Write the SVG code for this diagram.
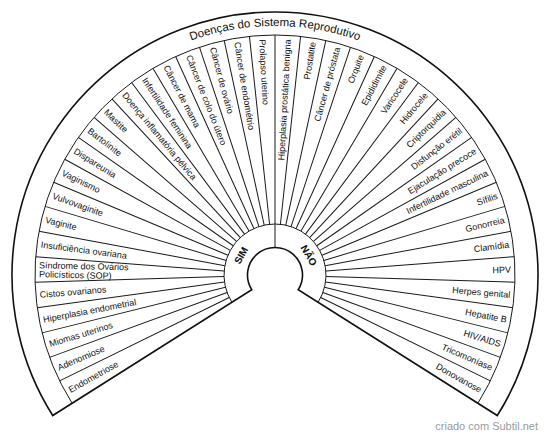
<svg xmlns="http://www.w3.org/2000/svg" xmlns:xlink="http://www.w3.org/1999/xlink" width="550" height="438" viewBox="0 0 550 438">
<style>
.ln{fill:none;stroke:#1a1a1a;stroke-width:1}
.out{fill:#fff;stroke:#111;stroke-width:1.6}
.lb{font-family:"Liberation Sans",Arial,sans-serif;font-size:9px;fill:#111}
.l{text-anchor:start}
.r{text-anchor:end}
.yn{font-family:"Liberation Sans",Arial,sans-serif;font-size:10px;font-weight:bold;fill:#111;text-anchor:middle}
.tt{font-family:"Liberation Sans",Arial,sans-serif;font-size:11.5px;fill:#111}
.ft{font-family:"Liberation Sans",Arial,sans-serif;font-size:11px;fill:#9a9a9a;text-anchor:end}
</style>
<defs>
<line id="sp" x1="326" y1="275" x2="515" y2="275"/>
<path id="tp" d="M 41.02 189.84 A 249 249 0 0 1 508.98 189.84"/>
</defs>
<rect width="550" height="438" fill="#fff"/>
<g id="frame">
<path class="out" d="M 52.70 415.53 A 263 263 0 1 1 497.30 415.53 L 298.24 289.69 A 27.5 27.5 0 1 0 251.76 289.69 Z"/>
<path class="ln" d="M 231.89 302.25 A 51 51 0 1 1 318.11 302.25"/>
</g>
<g id="connectors" class="ln">
<path d="M 72.14 403.24 A 240 240 0 1 1 477.86 403.24"/>
<line x1="275" y1="247.5" x2="275" y2="35"/>
<use href="#sp" transform="rotate(153.815 275 275)"/>
<use href="#sp" transform="rotate(159.93 275 275)"/>
<use href="#sp" transform="rotate(166.045 275 275)"/>
<use href="#sp" transform="rotate(172.16 275 275)"/>
<use href="#sp" transform="rotate(178.275 275 275)"/>
<use href="#sp" transform="rotate(184.39 275 275)"/>
<use href="#sp" transform="rotate(190.505 275 275)"/>
<use href="#sp" transform="rotate(196.62 275 275)"/>
<use href="#sp" transform="rotate(202.735 275 275)"/>
<use href="#sp" transform="rotate(208.85 275 275)"/>
<use href="#sp" transform="rotate(214.965 275 275)"/>
<use href="#sp" transform="rotate(221.08 275 275)"/>
<use href="#sp" transform="rotate(227.195 275 275)"/>
<use href="#sp" transform="rotate(233.31 275 275)"/>
<use href="#sp" transform="rotate(239.425 275 275)"/>
<use href="#sp" transform="rotate(245.54 275 275)"/>
<use href="#sp" transform="rotate(251.655 275 275)"/>
<use href="#sp" transform="rotate(257.77 275 275)"/>
<use href="#sp" transform="rotate(263.885 275 275)"/>
<use href="#sp" transform="rotate(276.115 275 275)"/>
<use href="#sp" transform="rotate(282.23 275 275)"/>
<use href="#sp" transform="rotate(288.345 275 275)"/>
<use href="#sp" transform="rotate(294.46 275 275)"/>
<use href="#sp" transform="rotate(300.575 275 275)"/>
<use href="#sp" transform="rotate(306.69 275 275)"/>
<use href="#sp" transform="rotate(312.805 275 275)"/>
<use href="#sp" transform="rotate(318.92 275 275)"/>
<use href="#sp" transform="rotate(325.035 275 275)"/>
<use href="#sp" transform="rotate(331.15 275 275)"/>
<use href="#sp" transform="rotate(337.265 275 275)"/>
<use href="#sp" transform="rotate(343.38 275 275)"/>
<use href="#sp" transform="rotate(349.495 275 275)"/>
<use href="#sp" transform="rotate(355.61 275 275)"/>
<use href="#sp" transform="rotate(361.725 275 275)"/>
<use href="#sp" transform="rotate(367.84 275 275)"/>
<use href="#sp" transform="rotate(373.955 275 275)"/>
<use href="#sp" transform="rotate(380.07 275 275)"/>
<use href="#sp" transform="rotate(386.185 275 275)"/>
</g>
<g id="title"><text class="tt"><textPath href="#tp" startOffset="50%" text-anchor="middle">Doenças do Sistema Reprodutivo</textPath></text></g>
<g id="sim"><text class="yn" x="275" y="239.3" transform="rotate(-60 275 275)">SIM</text></g>
<g id="nao"><text class="yn" x="275" y="239.3" transform="rotate(60 275 275)">NÃO</text></g>
<g id="left-labels" class="lb l">
<text x="39" y="278.2" transform="rotate(-29.24 275 275)">Endometriose</text>
<text x="39" y="278.2" transform="rotate(-23.13 275 275)">Adenomiose</text>
<text x="39" y="278.2" transform="rotate(-17.01 275 275)">Miomas uterinos</text>
<text x="39" y="278.2" transform="rotate(-10.90 275 275)">Hiperplasia endometrial</text>
<text x="39" y="278.2" transform="rotate(-4.78 275 275)">Cistos ovarianos</text>
<text x="39" y="273.7" transform="rotate(1.33 275 275)">Síndrome dos Ovários<tspan x="39" y="282.7">Policísticos (SOP)</tspan></text>
<text x="39" y="278.2" transform="rotate(7.45 275 275)">Insuficiência ovariana</text>
<text x="39" y="278.2" transform="rotate(13.56 275 275)">Vaginite</text>
<text x="39" y="278.2" transform="rotate(19.68 275 275)">Vulvovaginite</text>
<text x="39" y="278.2" transform="rotate(25.79 275 275)">Vaginismo</text>
<text x="39" y="278.2" transform="rotate(31.91 275 275)">Dispareunia</text>
<text x="39" y="278.2" transform="rotate(38.02 275 275)">Bartolinite</text>
<text x="39" y="278.2" transform="rotate(44.14 275 275)">Mastite</text>
<text x="39" y="278.2" transform="rotate(50.25 275 275)">Doença inflamatória pélvica</text>
<text x="39" y="278.2" transform="rotate(56.37 275 275)">Infertilidade feminina</text>
<text x="39" y="278.2" transform="rotate(62.48 275 275)">Câncer de mama</text>
<text x="39" y="278.2" transform="rotate(68.60 275 275)">Câncer de colo do útero</text>
<text x="39" y="278.2" transform="rotate(74.71 275 275)">Câncer de ovário</text>
<text x="39" y="278.2" transform="rotate(80.83 275 275)">Câncer de endométrio</text>
<text x="39" y="278.2" transform="rotate(86.94 275 275)">Prolapso uterino</text>
</g>
<g id="right-labels" class="lb r">
<text x="511" y="278.2" transform="rotate(-86.94 275 275)">Hiperplasia prostática benigna</text>
<text x="511" y="278.2" transform="rotate(-80.83 275 275)">Prostatite</text>
<text x="511" y="278.2" transform="rotate(-74.71 275 275)">Câncer de próstata</text>
<text x="511" y="278.2" transform="rotate(-68.60 275 275)">Orquite</text>
<text x="511" y="278.2" transform="rotate(-62.48 275 275)">Epididimite</text>
<text x="511" y="278.2" transform="rotate(-56.37 275 275)">Varicocele</text>
<text x="511" y="278.2" transform="rotate(-50.25 275 275)">Hidrocele</text>
<text x="511" y="278.2" transform="rotate(-44.14 275 275)">Criptorquidia</text>
<text x="511" y="278.2" transform="rotate(-38.02 275 275)">Disfunção erétil</text>
<text x="511" y="278.2" transform="rotate(-31.91 275 275)">Ejaculação precoce</text>
<text x="511" y="278.2" transform="rotate(-25.79 275 275)">Infertilidade masculina</text>
<text x="511" y="278.2" transform="rotate(-19.68 275 275)">Sífilis</text>
<text x="511" y="278.2" transform="rotate(-13.56 275 275)">Gonorreia</text>
<text x="511" y="278.2" transform="rotate(-7.45 275 275)">Clamídia</text>
<text x="511" y="278.2" transform="rotate(-1.33 275 275)">HPV</text>
<text x="511" y="278.2" transform="rotate(4.78 275 275)">Herpes genital</text>
<text x="511" y="278.2" transform="rotate(10.90 275 275)">Hepatite B</text>
<text x="511" y="278.2" transform="rotate(17.01 275 275)">HIV/AIDS</text>
<text x="511" y="278.2" transform="rotate(23.13 275 275)">Tricomoníase</text>
<text x="511" y="278.2" transform="rotate(29.24 275 275)">Donovanose</text>
</g>
<text class="ft" x="538" y="430">criado com Subtil.net</text>
</svg>
